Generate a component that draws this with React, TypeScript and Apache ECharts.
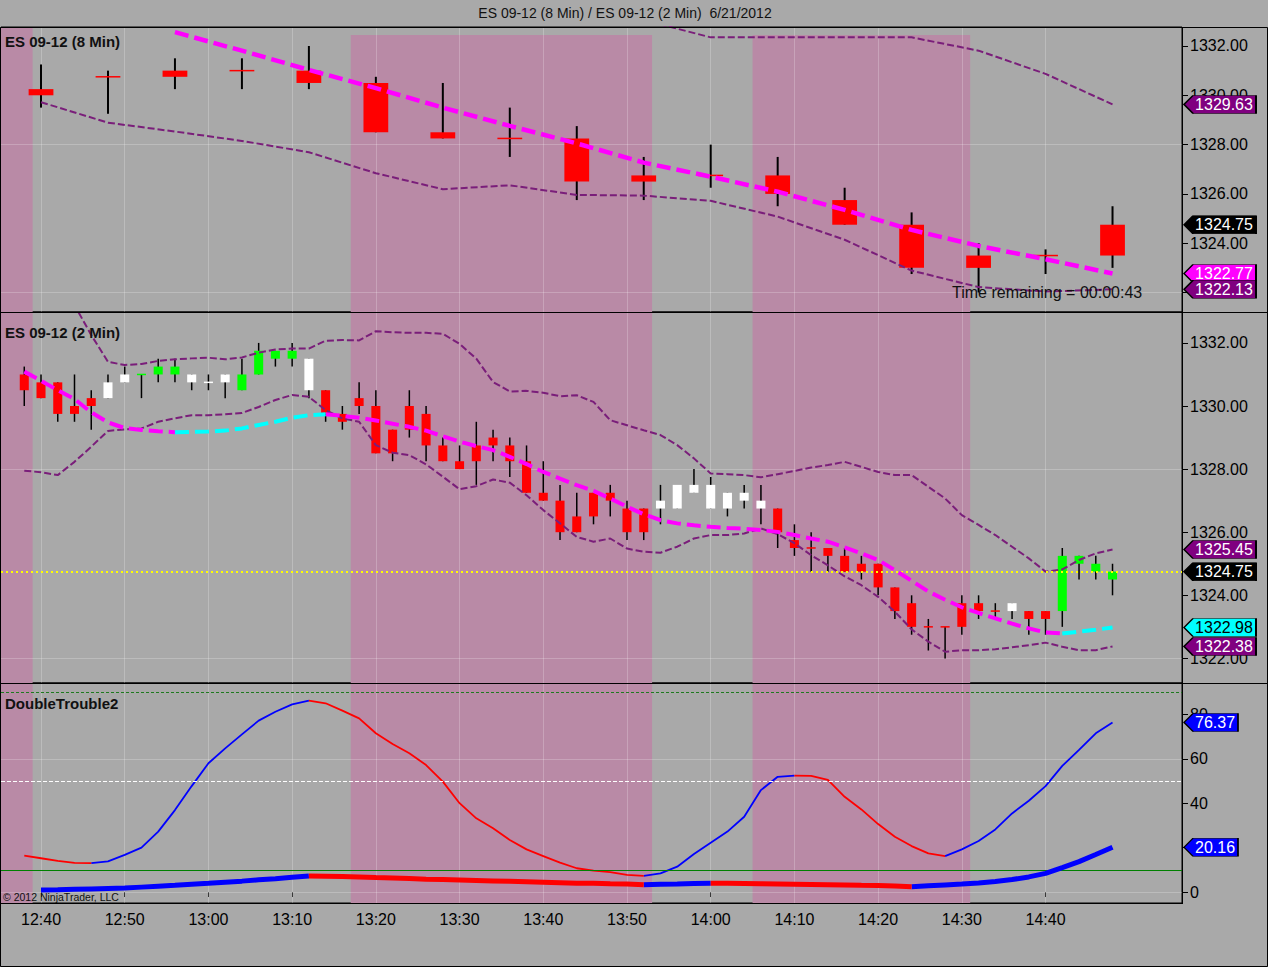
import React, { useEffect, useRef } from "react";
import * as echarts from "echarts";

const FONT = "'Liberation Sans', Arial, Helvetica, sans-serif";

// ---------- categories / ticks ----------
const times8 = ["12:40","12:48","12:56","13:04","13:12","13:20","13:28","13:36","13:44","13:52","14:00","14:08","14:16","14:24","14:32","14:40","14:48"];
const open8  = [1330.25,1330.75,1331.0,1331.0,1331.0,1330.5,1328.5,1328.25,1328.25,1326.75,1326.75,1326.75,1325.75,1324.75,1323.5,1323.5,1323.5];
const high8  = [1331.25,1331.0,1331.5,1331.5,1332.0,1330.75,1330.5,1329.5,1328.75,1327.5,1328.0,1327.5,1326.25,1325.25,1324.0,1323.75,1325.5];
const low8   = [1329.5,1329.25,1330.25,1330.25,1330.25,1328.5,1328.25,1327.5,1325.75,1325.75,1326.25,1325.5,1324.75,1322.75,1322.0,1322.75,1323.0];
const close8 = [1330.0,1330.75,1330.75,1331.0,1330.5,1328.5,1328.25,1328.25,1326.5,1326.5,1326.75,1326.0,1324.75,1323.0,1323.0,1323.5,1324.75];
const ma8    = [null,null,1332.56,1331.81,1331.03,1330.29,1329.5,1328.76,1328.05,1327.27,1326.7,1326.09,1325.35,1324.54,1323.89,1323.35,1322.77];
const upper8 = [1334.4,1334.2,1334.0,1333.9,1333.8,1333.6,1333.5,1333.4,1333.3,1333.05,1332.35,1332.35,1332.35,1332.35,1331.81,1330.87,1329.63];
const lower8 = [1329.72,1328.89,1328.53,1328.15,1327.69,1326.84,1326.19,1326.35,1325.96,1325.93,1325.72,1325.08,1324.14,1322.89,1322.22,1322.04,1322.13];

const times2 = [
  "12:38","12:40","12:42","12:44","12:46","12:48","12:50","12:52","12:54","12:56","12:58",
  "13:00","13:02","13:04","13:06","13:08","13:10","13:12","13:14","13:16","13:18","13:20",
  "13:22","13:24","13:26","13:28","13:30","13:32","13:34","13:36","13:38","13:40","13:42",
  "13:44","13:46","13:48","13:50","13:52","13:54","13:56","13:58","14:00","14:02","14:04",
  "14:06","14:08","14:10","14:12","14:14","14:16","14:18","14:20","14:22","14:24","14:26",
  "14:28","14:30","14:32","14:34","14:36","14:38","14:40","14:42","14:44","14:46","14:48"];
const open2 = [
  1331.0,1330.75,1330.75,1330.0,1330.25,1330.25,1330.75,1331.0,1331.0,1331.0,1331.0,
  1330.75,1330.75,1330.5,1331.0,1331.5,1331.5,1331.5,1330.5,1329.75,1330.25,1330.0,
  1329.25,1330.0,1329.75,1328.75,1328.25,1328.75,1329.0,1328.75,1328.25,1327.25,1327.0,
  1326.5,1327.25,1327.25,1326.75,1326.75,1326.75,1326.75,1327.25,1327.5,1327.25,1327.0,
  1327.0,1326.75,1325.75,1325.5,1325.5,1325.25,1325.0,1325.0,1324.25,1323.75,1323.0,
  1323.0,1323.75,1323.75,1323.5,1323.5,1323.5,1323.5,1323.5,1325.0,1324.75,1324.5];
const high2 = [
  1331.25,1331.0,1330.75,1331.0,1330.5,1331.0,1331.25,1331.0,1331.5,1331.5,1331.0,
  1331.0,1331.0,1331.5,1332.0,1331.75,1332.0,1331.5,1330.5,1330.0,1330.75,1330.5,
  1329.25,1330.5,1330.0,1329.0,1328.75,1329.5,1329.25,1329.0,1328.75,1328.25,1327.5,
  1327.25,1327.25,1327.5,1327.0,1326.75,1327.5,1327.5,1328.0,1327.75,1327.25,1327.5,
  1327.5,1326.75,1326.25,1326.0,1325.5,1325.5,1325.25,1325.0,1324.25,1324.0,1323.25,
  1323.0,1324.0,1324.0,1323.75,1323.75,1323.5,1323.5,1325.5,1325.25,1325.25,1325.0];
const low2 = [
  1330.0,1330.25,1329.5,1329.5,1329.25,1330.25,1330.75,1330.25,1330.75,1330.75,1330.5,
  1330.5,1330.25,1330.5,1331.0,1331.25,1331.25,1330.25,1329.5,1329.25,1329.75,1328.5,
  1328.25,1329.0,1328.25,1328.25,1328.0,1327.5,1328.25,1327.75,1327.25,1327.0,1325.75,
  1326.0,1326.25,1326.5,1325.75,1325.75,1326.25,1326.75,1327.25,1326.75,1326.5,1326.75,
  1326.25,1325.5,1325.25,1324.75,1324.75,1324.75,1324.5,1324.0,1323.25,1322.75,1322.25,
  1322.0,1322.75,1323.25,1323.25,1323.25,1322.75,1322.75,1323.0,1324.5,1324.5,1324.0];
const close2 = [
  1330.5,1330.25,1329.75,1329.75,1330.0,1330.75,1331.0,1331.0,1331.25,1331.25,1330.75,
  1330.75,1331.0,1331.0,1331.75,1331.75,1331.75,1330.5,1329.75,1329.5,1330.0,1328.5,
  1328.5,1329.25,1328.75,1328.25,1328.0,1328.25,1328.75,1328.25,1327.25,1327.0,1326.0,
  1326.0,1326.5,1327.0,1326.0,1326.0,1327.0,1327.5,1327.5,1326.75,1326.75,1327.25,
  1326.75,1326.0,1325.5,1325.5,1325.25,1324.75,1324.75,1324.25,1323.5,1323.0,1323.0,
  1323.0,1323.0,1323.5,1323.5,1323.75,1323.25,1323.25,1325.25,1325.25,1325.0,1324.75];
// paint-bar state of each 2-min bar: R = red, W = white, G = green
const state2 = ("RRRRRWWGGGW" + "WWGGGGWRRRR" + "RRRRRRRRRRR" + "RRRRRWWWWWW" + "WRRRRRRRRRR" + "RRRRWRRGGGG").split("");
const ma2 = [
  1331.09,1330.8,1330.5,1330.22,1329.8,1329.48,1329.3,1329.24,1329.2,1329.17,1329.18,
  1329.19,1329.22,1329.29,1329.4,1329.5,1329.63,1329.71,1329.74,1329.69,1329.63,1329.54,
  1329.44,1329.34,1329.22,1329.04,1328.87,1328.73,1328.6,1328.39,1328.16,1327.91,1327.7,
  1327.49,1327.31,1327.07,1326.81,1326.57,1326.38,1326.28,1326.22,1326.17,1326.13,1326.11,
  1326.07,1326.01,1325.91,1325.8,1325.7,1325.52,1325.33,1325.12,1324.8,1324.46,1324.12,
  1323.86,1323.62,1323.44,1323.27,1323.1,1322.95,1322.82,1322.79,1322.85,1322.91,1322.98];
const upper2 = [
  1334.3,1334.0,1333.7,1333.2,1332.25,1331.4,1331.3,1331.33,1331.43,1331.48,1331.51,
  1331.53,1331.48,1331.54,1331.69,1331.79,1331.82,1331.82,1332.07,1332.09,1332.08,1332.37,
  1332.34,1332.32,1332.32,1332.29,1331.97,1331.5,1330.76,1330.46,1330.48,1330.42,1330.31,
  1330.34,1330.13,1329.55,1329.39,1329.23,1329.08,1328.76,1328.34,1327.86,1327.84,1327.81,
  1327.74,1327.84,1327.94,1328.05,1328.13,1328.23,1328.07,1327.91,1327.81,1327.81,1327.44,
  1327.07,1326.54,1326.23,1325.91,1325.54,1325.17,1324.75,1324.82,1325.12,1325.33,1325.45];
const lower2 = [
  1327.95,1327.9,1327.81,1328.23,1328.71,1329.21,1329.26,1329.29,1329.5,1329.61,1329.71,
  1329.71,1329.74,1329.78,1329.97,1330.19,1330.35,1330.29,1329.87,1329.61,1329.5,1328.76,
  1328.52,1328.44,1328.15,1327.76,1327.36,1327.46,1327.67,1327.57,1327.17,1326.7,1326.28,
  1325.85,1325.7,1325.8,1325.48,1325.38,1325.35,1325.54,1325.8,1325.91,1325.91,1325.96,
  1326.12,1325.94,1325.65,1325.27,1324.95,1324.6,1324.32,1323.95,1323.48,1322.92,1322.53,
  1322.21,1322.26,1322.26,1322.29,1322.35,1322.42,1322.5,1322.37,1322.26,1322.26,1322.38];

// DoubleTrouble2 indicator
const dtFast = [
  16.4,15.2,14.0,13.1,13.0,13.8,16.7,20.0,27.2,36.9,47.7,
  58.0,64.7,71.0,77.2,81.2,84.5,86.2,85.0,81.7,78.2,71.5,
  66.7,62.5,57.2,49.7,40.0,33.2,28.7,23.4,19.2,16.2,13.2,
  10.7,9.6,9.0,7.7,7.3,8.4,11.4,17.1,22.2,27.2,33.9,
  45.9,51.9,52.4,52.3,50.5,42.9,37.2,30.6,24.9,20.7,17.4,
  16.2,19.2,23.0,28.2,35.4,41.1,47.7,56.8,64.0,71.5,76.37];
const dtSlow = [
  null,0.9,1.0,1.2,1.4,1.6,1.8,2.2,2.6,3.0,3.5,
  3.9,4.4,4.9,5.5,6.0,6.6,7.2,7.1,7.0,6.8,6.5,
  6.3,6.1,5.8,5.6,5.4,5.2,5.0,4.8,4.6,4.4,4.2,
  4.0,3.9,3.7,3.6,3.3,3.5,3.6,3.8,4.0,3.9,3.8,
  3.7,3.6,3.5,3.4,3.3,3.2,3.0,2.9,2.7,2.4,2.8,
  3.2,3.6,4.1,4.7,5.6,6.8,8.4,11.0,13.7,16.9,20.16];
const dtLevels = [90, 50, 10];

const xTickLabels = ["12:40","12:50","13:00","13:10","13:20","13:30","13:40","13:50","14:00","14:10","14:20","14:30","14:40"];
const priceTicks = [1322, 1324, 1326, 1328, 1330, 1332];
// labels left visible beside the value tags
const priceLabels8 = [1324, 1326, 1328, 1330, 1332];
const priceLabels2 = [1322, 1324, 1326, 1328, 1330, 1332];
const dtTicks = [0, 20, 40, 60, 80];
const dtLabels = [0, 40, 60, 80];
const priceGridLines = [1322, 1328];
const dtGridLines = [0, 60];
// shaded sessions, first and last bar in each
const bandRanges = [["12:30", "12:38"], ["13:18", "13:52"], ["14:06", "14:30"]];
const titleText = "ES 09-12 (8 Min) / ES 09-12 (2 Min)  6/21/2012";
const timeRemaining = "00:00:43";

// ---------- layout / styling ----------
const X_MIN = 35.22, X_MAX = 176.3;
const Y8_MIN = 1321.21, Y8_MAX = 1332.77, BAND8_TOP = 1332.45;
const Y2_MIN = 1321.22, Y2_MAX = 1332.98;
const DT_MIN = -4.95, DT_MAX = 94.14;
const GRAY = "#A9A9A9";
const PINK = "#B98AA6";
const PURPLE = "#7A1E7A";
const STATE_COLOR: Record<string, string> = { R: "#FF0000", W: "#FFFFFF", G: "#00FF00" };

const toMin = (s: string) => { const [h, m] = s.split(":").map(Number); return h * 60 + m - 720; };
const fmtTime = (v: number) => { const m = Math.round(v) + 720; return `${Math.floor(m / 60)}:${String(m % 60).padStart(2, "0")}`; };

const x8 = times8.map(toMin);
const x2 = times2.map(toMin);
const pairs = (xs: number[], ys: (number | null)[]) => xs.map((x, i) => [x, ys[i] == null ? "-" : ys[i]]);

function splitBySlope(xs: number[], ys: (number | null)[]) {
  const up: any[] = [];
  const down: any[] = [];
  for (let i = 0; i < ys.length - 1; i++) {
    const a = ys[i], b = ys[i + 1];
    if (a == null || b == null) continue;
    const arr = b > a ? up : down;
    const last = arr[arr.length - 1];
    if (!last || last[0] !== xs[i]) {
      if (last) arr.push([(last[0] + xs[i]) / 2, "-"]);
      arr.push([xs[i], a]);
    }
    arr.push([xs[i + 1], b]);
  }
  return { up, down };
}

function lastRising(ys: (number | null)[]) {
  const n = ys.length;
  return (ys[n - 1] as number) > (ys[n - 2] as number);
}

function tag(value: number, bg: string, fg: string, w: number) {
  return {
    coord: [X_MAX, value],
    value,
    symbol: `path://M0,9L9,0L${w},0L${w},18L9,18Z`,
    symbolSize: [w, 18],
    symbolKeepAspect: false,
    symbolOffset: [w / 2 + 2, 0],
    itemStyle: { color: bg, borderColor: "#000", borderWidth: 1 },
    label: {
      show: true, position: "inside", offset: [4, 0], color: fg,
      fontSize: 16, fontFamily: FONT, formatter: value.toFixed(2),
    },
  };
}

function bandAreas(top?: number) {
  return bandRanges.map(([a, b], i) => {
    const s = Math.max(X_MIN, toMin(a) - 1);
    const e = toMin(b) + 1;
    if (top != null && i > 0) return [{ xAxis: s, yAxis: Y8_MIN }, { xAxis: e, yAxis: top }];
    return [{ xAxis: s }, { xAxis: e }];
  });
}

function gridLines(hValues: number[]) {
  return {
    z: 1.5, silent: true, symbol: ["none", "none"], animation: false,
    label: { show: false },
    lineStyle: { color: "rgba(255,255,255,0.22)", width: 1, type: "solid" },
    emphasis: { disabled: true },
    data: [
      ...xTickLabels.map((t) => ({ xAxis: toMin(t) })),
      ...hValues.map((v) => ({ yAxis: v })),
    ],
  };
}

function candleRenderer(spanMin: number, ratio: number, wick: number, colorOf: (i: number) => string) {
  return (params: any, api: any) => {
    const t = api.value(0), o = api.value(1), c = api.value(2), l = api.value(3), h = api.value(4);
    const pH = api.coord([t, h]);
    const pL = api.coord([t, l]);
    const pO = api.coord([t, o]);
    const pC = api.coord([t, c]);
    const w = api.size([spanMin, 0])[0] * ratio;
    const x = pO[0];
    const color = colorOf(params.dataIndex);
    const children: any[] = [
      { type: "line", shape: { x1: x, y1: pH[1], x2: x, y2: pL[1] }, style: { stroke: "#000", lineWidth: wick } },
    ];
    const bh = Math.abs(pO[1] - pC[1]);
    if (bh < 1) {
      children.push({ type: "line", shape: { x1: x - w / 2, y1: pO[1], x2: x + w / 2, y2: pO[1] }, style: { stroke: color, lineWidth: 1.5 } });
    } else {
      children.push({ type: "rect", shape: { x: x - w / 2, y: Math.min(pO[1], pC[1]), width: w, height: bh }, style: { fill: color } });
    }
    return { type: "group", children };
  };
}

function line(idx: number, data: any[], color: string, width: number, type: any, z: number, extra: any = {}) {
  return {
    type: "line", xAxisIndex: idx, yAxisIndex: idx, data, showSymbol: false, symbol: "none",
    silent: true, clip: true, z, connectNulls: false, animation: false,
    lineStyle: { color, width, type, cap: "butt" },
    emphasis: { disabled: true },
    ...extra,
  };
}

function hLine(y: number, x1: number, x2: number) {
  return { type: "line", silent: true, z: 100, shape: { x1, y1: y, x2, y2: y }, style: { stroke: "#000", lineWidth: 1 } };
}

function buildOption() {
  const ma8s = splitBySlope(x8, ma8);
  const ma2s = splitBySlope(x2, ma2);
  const fastS = splitBySlope(x2, dtFast);
  const slowS = splitBySlope(x2, dtSlow);
  const MA_DASH = [14, 6];
  const BAND_DASH = [7, 3];
  const lastClose8 = close8[close8.length - 1];
  const lastClose2 = close2[close2.length - 1];
  const ma8Rising = lastRising(ma8);
  const ma2Rising = lastRising(ma2);

  const xAxisCfg = (i: number) => ({
    type: "value", gridIndex: i, min: X_MIN, max: X_MAX,
    axisLine: { show: false }, splitLine: { show: false },
    axisTick: { show: i === 2, customValues: xTickLabels.map(toMin), length: 5, lineStyle: { color: "#000" } },
    axisLabel: {
      show: i === 2, customValues: xTickLabels.map(toMin), formatter: fmtTime,
      color: "#000", fontSize: 16, margin: 8, fontFamily: FONT,
    },
  });
  const yAxisCfg = (i: number, min: number, max: number, ticks: number[], labels: number[], dec: number) => ({
    type: "value", gridIndex: i, position: "right", min, max,
    axisLine: { show: false }, splitLine: { show: false },
    axisTick: { show: true, customValues: ticks, length: 6, lineStyle: { color: "#000" } },
    axisLabel: {
      customValues: labels, formatter: (v: number) => v.toFixed(dec),
      color: "#000", fontSize: 16, margin: 8, fontFamily: FONT,
    },
  });
  const gridCfg = (top: number, height: number) => ({
    left: 1, top, width: 1181, height, show: true, borderColor: "#000", borderWidth: 1, backgroundColor: "transparent",
  });

  return {
    animation: false,
    backgroundColor: GRAY,
    textStyle: { fontFamily: FONT },
    grid: [gridCfg(27, 285), gridCfg(312, 371), gridCfg(683, 220)],
    xAxis: [xAxisCfg(0), xAxisCfg(1), xAxisCfg(2)],
    yAxis: [
      yAxisCfg(0, Y8_MIN, Y8_MAX, priceTicks, priceLabels8, 2),
      yAxisCfg(1, Y2_MIN, Y2_MAX, priceTicks, priceLabels2, 2),
      yAxisCfg(2, DT_MIN, DT_MAX, dtTicks, dtLabels, 0),
    ],
    series: [
      // ---------- 8 min panel ----------
      {
        type: "custom", xAxisIndex: 0, yAxisIndex: 0, clip: true, z: 3, silent: true,
        encode: { x: 0, y: [1, 2, 3, 4] },
        data: x8.map((x, i) => [x, open8[i], close8[i], low8[i], high8[i]]),
        renderItem: candleRenderer(8, 0.37, 2, () => "#FF0000"),
      },
      line(0, pairs(x8, upper8), PURPLE, 2, BAND_DASH, 4, {
        markArea: { silent: true, itemStyle: { color: PINK }, data: bandAreas(BAND8_TOP) },
        markLine: gridLines(priceGridLines),
      }),
      line(0, pairs(x8, lower8), PURPLE, 2, BAND_DASH, 4, {
        markPoint: {
          z: 10, silent: true, animation: false,
          data: [
            tag(upper8[upper8.length - 1], "#800080", "#FFFFFF", 72),
            tag(lastClose8, "#000000", "#FFFFFF", 72),
            tag(ma8[ma8.length - 1] as number, ma8Rising ? "#00FFFF" : "#FF00FF", ma8Rising ? "#000" : "#FFFFFF", 72),
            tag(lower8[lower8.length - 1], "#800080", "#FFFFFF", 72),
          ],
        },
      }),
      line(0, ma8s.down, "#FF00FF", 4.5, MA_DASH, 5),
      line(0, ma8s.up, "#00FFFF", 4.5, MA_DASH, 5),

      // ---------- 2 min panel ----------
      {
        type: "custom", xAxisIndex: 1, yAxisIndex: 1, clip: true, z: 3, silent: true,
        encode: { x: 0, y: [1, 2, 3, 4] },
        data: x2.map((x, i) => [x, open2[i], close2[i], low2[i], high2[i]]),
        renderItem: candleRenderer(2, 0.54, 1.5, (i) => STATE_COLOR[state2[i]]),
      },
      line(1, pairs(x2, upper2), PURPLE, 2, BAND_DASH, 4, {
        markArea: { silent: true, itemStyle: { color: PINK }, data: bandAreas() },
        markLine: gridLines(priceGridLines),
      }),
      line(1, pairs(x2, lower2), PURPLE, 2, BAND_DASH, 4, {
        markPoint: {
          z: 10, silent: true, animation: false,
          data: [
            tag(upper2[upper2.length - 1], "#800080", "#FFFFFF", 72),
            tag(lastClose2, "#000000", "#FFFFFF", 72),
            tag(ma2[ma2.length - 1], ma2Rising ? "#00FFFF" : "#FF00FF", ma2Rising ? "#000" : "#FFFFFF", 72),
            tag(lower2[lower2.length - 1], "#800080", "#FFFFFF", 72),
          ],
        },
      }),
      line(1, ma2s.down, "#FF00FF", 4, MA_DASH, 5, {
        markLine: {
          silent: true, symbol: ["none", "none"], animation: false, label: { show: false },
          emphasis: { disabled: true },
          lineStyle: { color: "#FFFF00", width: 2, type: [2, 3] },
          data: [{ yAxis: lastClose2 }],
        },
      }),
      line(1, ma2s.up, "#00FFFF", 4, MA_DASH, 5),

      // ---------- DoubleTrouble2 panel ----------
      line(2, fastS.up, "#0000FF", 1.8, "solid", 4, {
        markArea: { silent: true, itemStyle: { color: PINK }, data: bandAreas() },
        markLine: gridLines(dtGridLines),
      }),
      line(2, fastS.down, "#FF0000", 1.8, "solid", 4, {
        markLine: {
          silent: true, symbol: ["none", "none"], animation: false, label: { show: false },
          emphasis: { disabled: true },
          data: [
            { yAxis: dtLevels[0], lineStyle: { color: "#1E7A1E", width: 1, type: [3, 2] } },
            { yAxis: dtLevels[1], lineStyle: { color: "#FFFFFF", width: 1, type: [4, 2] } },
            { yAxis: dtLevels[2], lineStyle: { color: "#008000", width: 1, type: "solid" } },
          ],
        },
      }),
      line(2, slowS.up, "#0000FF", 5, "solid", 5, {
        markPoint: {
          z: 10, silent: true, animation: false,
          data: [
            tag(dtFast[dtFast.length - 1], "#0000FF", "#FFFFFF", 54),
            tag(dtSlow[dtSlow.length - 1] as number, "#0000FF", "#FFFFFF", 54),
          ],
        },
      }),
      line(2, slowS.down, "#FF0000", 5, "solid", 5),
    ],
    graphic: [
      { type: "text", x: 625, y: 13, silent: true, z: 100,
        style: { text: titleText, font: `14px ${FONT}`, fill: "#111", textAlign: "center", textVerticalAlign: "middle" } },
      { type: "text", x: 5, y: 41, silent: true, z: 100,
        style: { text: "ES 09-12 (8 Min)", font: `bold 15px ${FONT}`, fill: "#111", textAlign: "left", textVerticalAlign: "middle" } },
      { type: "text", x: 5, y: 332, silent: true, z: 100,
        style: { text: "ES 09-12 (2 Min)", font: `bold 15px ${FONT}`, fill: "#111", textAlign: "left", textVerticalAlign: "middle" } },
      { type: "text", x: 5, y: 703, silent: true, z: 100,
        style: { text: "DoubleTrouble2", font: `bold 15px ${FONT}`, fill: "#111", textAlign: "left", textVerticalAlign: "middle" } },
      { type: "text", x: 952, y: 292, silent: true, z: 100,
        style: { text: `Time remaining = ${timeRemaining}`, font: `16px ${FONT}`, fill: "#111", textAlign: "left", textVerticalAlign: "middle" } },
      { type: "text", x: 3, y: 897, silent: true, z: 100,
        style: { text: "\u00A9 2012 NinjaTrader, LLC", font: `10.5px ${FONT}`, fill: "#111", textAlign: "left", textVerticalAlign: "middle" } },
      { type: "rect", silent: true, z: 100, shape: { x: 0.5, y: 27.5, width: 1267, height: 939 },
        style: { fill: "none", stroke: "#000", lineWidth: 1 } },
      hLine(312.5, 0, 1268),
      hLine(683.5, 0, 1268),
      hLine(903.5, 0, 1182.5),
      { type: "line", silent: true, z: 100, shape: { x1: 1182.5, y1: 27, x2: 1182.5, y2: 904 }, style: { stroke: "#000", lineWidth: 1 } },
    ],
  };
}

export default function App() {
  const ref = useRef<HTMLDivElement>(null);
  useEffect(() => {
    if (!ref.current) return;
    const chart = echarts.init(ref.current, undefined, { renderer: "svg" });
    chart.setOption(buildOption() as any);
    return () => chart.dispose();
  }, []);
  return (
    <div
      ref={ref}
      style={{ position: "absolute", left: 0, top: 0, width: 1268, height: 967, background: GRAY }}
    />
  );
}
